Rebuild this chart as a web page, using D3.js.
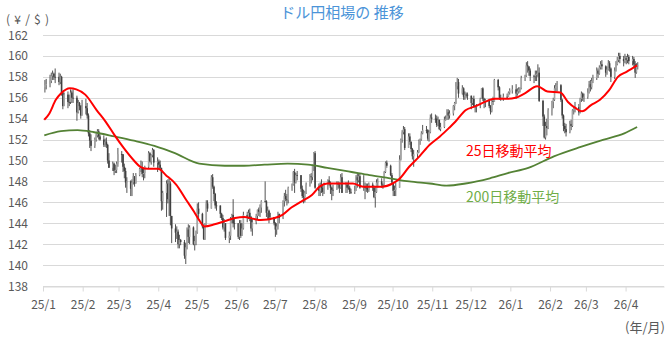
<!DOCTYPE html>
<html>
<head>
<meta charset="utf-8">
<script src="https://cdn.jsdelivr.net/npm/d3@7"></script>
<style>
  body { margin: 0; background: #fff; }
  text { font-family: "Noto Sans CJK JP", "Noto Sans", sans-serif; }
</style>
</head>
<body>
<div id="viz"></div>
<script>
//months covered, one row of daily values per month in the arrays below
const months = ["2025-01","2025-02","2025-03","2025-04","2025-05","2025-06","2025-07","2025-08",
  "2025-09","2025-10","2025-11","2025-12","2026-01","2026-02","2026-03","2026-04"];
//weekdays without a quote
const holidays = ["2025-01-01","2025-12-25","2026-01-01"];
//open of the very first day (after that each day opens at the previous close)
const firstOpen = 157.0;

//daily close (yen per dollar)
const close = [
  [157.2,157.3,157.6,158.1,158.3,158.0,158.0,157.5,158.0,156.5,155.2,156.3,155.6,155.6,156.5,156.0,156.0,154.6,155.5,155.2,154.3,155.2],
  [155.0,154.3,152.6,151.9,151.4,152.0,152.4,152.8,152.3,152.0,151.5,151.8,151.5,150.0,149.3,149.7,149.0,149.1,149.7,150.6],
  [150.6,149.4,149.0,147.9,148.0,147.3,147.9,148.5,147.8,148.6,149.2,149.3,148.7,148.8,149.4,150.7,149.9,150.5,151.0,149.8,149.9],
  [149.6,149.3,146.1,146.9,147.8,146.3,147.8,144.7,143.5,143.1,143.2,142.0,142.4,142.2,140.9,141.7,143.4,142.7,143.6,142.0,142.3,143.1],
  [145.4,144.9,143.7,142.5,143.8,145.9,145.4,148.4,147.5,146.8,145.7,145.7,144.9,144.5,143.6,144.0,142.6,142.8,144.3,144.8,144.0,144.0],
  [142.7,144.0,142.8,143.5,144.8,144.6,145.0,144.6,143.5,144.1,144.7,145.3,145.1,145.5,146.1,146.1,145.0,145.2,144.4,144.6,144.0],
  [143.4,143.7,144.9,144.5,146.1,146.6,146.3,146.2,147.4,147.7,148.9,147.9,148.6,148.6,147.3,146.6,146.5,146.9,147.7,148.5,148.4,149.5,150.7],
  [147.4,147.1,147.7,147.4,147.0,147.7,148.1,147.8,147.4,147.2,147.2,147.8,147.7,147.4,148.4,146.9,147.7,147.4,147.4,147.0,147.0],
  [147.1,148.4,148.1,148.5,147.4,147.5,147.4,147.4,147.2,147.7,147.4,146.5,147.0,147.9,148.0,147.7,147.6,148.9,149.8,149.5,148.6,147.9],
  [147.1,147.2,147.4,150.1,152.0,152.7,153.0,151.2,152.3,151.8,151.1,150.4,150.6,150.8,151.9,152.0,152.6,152.9,152.9,152.1,152.7,154.1,154.0],
  [154.0,153.4,153.9,153.0,153.2,153.9,154.0,154.6,154.3,154.5,155.2,155.5,157.1,157.5,156.4,156.9,156.1,156.3,156.3,156.2],
  [155.5,155.9,155.2,155.1,155.3,155.9,156.9,155.9,155.6,155.8,155.2,154.7,155.7,155.6,157.7,157.0,156.0,155.9,156.1,156.1,156.5,156.7],
  [156.8,156.4,156.6,156.8,156.9,157.9,158.1,159.1,159.0,158.6,158.1,158.1,158.2,158.3,158.4,155.7,154.2,152.2,153.3,153.1,154.8],
  [155.6,155.8,156.9,157.1,157.2,155.8,154.3,153.3,153.0,152.7,153.5,153.3,154.8,155.0,155.1,154.6,155.9,156.4,156.0,156.1],
  [156.5,157.3,157.0,157.6,157.9,158.6,158.3,158.9,159.2,159.0,158.4,158.7,159.3,158.8,158.0,158.6,159.2,159.6,160.0,159.7,159.5,159.8],
  [159.6,159.9,159.5,159.7,159.2,158.4,159.0,159.1]
];
//daily high
const high = [
  [157.7,157.8,158.2,158.4,158.6,158.4,158.8,158.4,158.3,158.1,156.6,156.5,156.6,156.3,156.8,156.7,156.8,156.2,155.8,155.6,155.3,155.8],
  [155.9,155.5,154.5,152.9,152.5,152.2,152.6,153.0,153.0,152.5,152.4,152.1,152.2,151.6,150.7,149.9,149.8,149.6,149.9,151.2],
  [150.9,150.6,149.7,149.3,148.4,148.1,148.2,148.8,148.5,148.8,149.3,150.0,149.9,149.2,149.5,150.9,150.8,150.6,151.2,151.1,150.3],
  [150.1,150.0,149.3,147.1,148.1,148.2,148.3,148.0,144.6,143.9,143.7,143.4,142.9,142.5,142.4,142.1,143.6,143.9,143.8,143.7,142.8,143.3],
  [145.9,146.0,145.0,143.9,144.0,146.2,146.2,148.6,148.7,147.6,146.9,146.1,145.7,145.0,144.8,144.4,144.0,143.2,144.6,144.9,146.3,144.4],
  [143.9,144.3,144.3,144.0,145.1,145.1,145.3,145.4,144.7,144.5,144.9,145.3,145.5,145.8,146.2,148.0,146.2,145.6,145.3,145.0,144.5],
  [144.1,144.0,145.1,144.9,146.2,146.9,147.2,146.8,147.5,147.8,149.0,149.2,148.8,149.0,148.5,147.6,147.2,147.1,147.9,148.7,148.8,149.6,150.8],
  [150.9,147.8,147.9,148.2,147.6,147.9,148.2,148.5,148.0,147.5,147.7,148.0,148.0,147.9,148.7,148.8,147.9,147.9,148.1,147.6,147.3],
  [147.6,148.6,148.8,148.8,148.8,148.6,147.9,147.8,147.8,147.9,147.9,147.6,147.5,148.2,148.3,148.3,147.8,149.0,149.9,150.0,149.6,148.8],
  [147.9,147.6,147.9,150.5,152.1,152.9,153.3,153.2,152.6,152.6,151.7,151.2,151.0,151.0,152.0,152.1,152.8,153.4,153.3,153.0,152.9,154.4,154.5],
  [154.4,154.3,154.2,153.9,153.6,154.2,154.3,154.9,154.9,154.8,155.3,155.6,157.5,157.9,157.8,157.2,157.0,156.6,156.5,156.5],
  [156.2,156.0,156.2,155.3,155.4,156.0,156.9,157.0,156.0,155.9,155.9,155.3,155.8,156.1,157.8,157.8,157.1,156.3,156.4,156.4,156.6,156.9],
  [157.2,157.3,156.9,157.0,157.0,158.1,158.2,159.4,159.5,159.0,158.8,158.2,158.6,158.6,159.2,158.9,155.8,154.4,153.7,154.0,155.0],
  [155.7,156.0,157.2,157.4,157.6,157.3,155.9,154.4,153.6,153.5,153.8,153.9,154.9,155.2,155.6,155.4,156.0,156.6,156.5,156.4],
  [156.9,157.6,157.7,157.9,158.2,158.9,158.8,159.1,159.5,159.6,159.1,159.0,159.6,159.5,158.9,158.9,159.5,159.9,160.3,160.3,160.0,160.2],
  [160.0,160.2,160.1,160.0,159.9,159.5,159.3,159.4]
];
//daily low
const low = [
  [156.5,156.8,157.0,157.4,157.7,157.7,157.4,157.2,157.3,156.2,154.9,155.2,155.0,155.2,155.4,155.5,155.5,153.8,154.5,154.8,154.0,154.3],
  [154.4,154.0,152.3,151.2,150.9,151.2,151.8,152.2,152.0,151.9,151.3,151.3,151.2,149.7,149.3,149.0,148.6,148.8,148.8,149.4],
  [149.8,148.9,148.3,147.4,146.9,146.6,146.6,147.7,147.5,147.8,148.5,148.9,148.4,148.1,148.3,149.2,149.8,149.6,150.3,149.4,148.9],
  [149.1,149.1,145.2,145.3,144.6,145.9,144.7,143.8,142.1,142.2,142.5,141.6,141.6,141.9,140.6,140.1,141.5,142.1,142.0,141.9,141.4,141.9],
  [143.0,144.5,143.5,142.4,142.4,143.8,145.1,145.5,147.3,146.1,145.4,145.2,144.5,144.3,143.4,143.2,142.4,142.1,142.4,144.0,143.6,143.4],
  [142.5,142.4,142.6,142.8,143.4,144.1,144.4,144.2,143.2,142.8,143.9,144.3,144.7,144.6,145.0,146.0,144.6,144.4,144.0,144.3,143.8],
  [142.7,142.9,143.4,144.0,144.4,145.6,146.1,145.7,145.9,147.1,147.6,146.9,147.8,148.1,147.0,146.4,145.9,146.0,146.8,147.5,147.8,148.1,149.0],
  [147.3,146.6,146.6,146.9,146.6,146.8,147.2,147.6,146.8,146.2,146.6,147.3,147.3,146.9,147.3,146.9,146.9,146.9,147.2,146.8,146.8],
  [146.8,147.1,147.4,147.9,147.3,147.1,146.3,147.0,146.9,147.0,147.1,146.4,145.5,146.9,147.4,147.4,147.3,147.5,148.8,149.3,148.5,147.8],
  [146.6,146.6,146.6,148.8,150.0,151.7,152.5,151.0,151.6,151.5,150.8,150.1,149.4,150.2,150.7,151.5,151.9,152.5,152.6,151.9,151.8,152.6,153.6],
  [153.6,153.2,153.3,152.9,152.8,153.1,153.8,153.9,153.9,154.0,154.3,154.8,155.4,156.8,156.0,156.3,155.8,155.8,156.0,155.8],
  [154.9,155.3,155.1,154.6,154.6,155.0,155.9,155.7,155.0,155.1,155.0,154.4,154.6,155.3,155.6,156.7,155.8,155.7,155.7,155.9,156.1,156.3],
  [156.4,155.9,156.2,156.4,156.5,156.8,157.6,158.0,158.4,158.1,157.6,157.4,157.6,157.6,158.0,155.6,153.3,152.1,152.0,152.4,153.0],
  [154.3,155.0,155.7,156.6,156.6,155.6,154.0,152.8,152.6,152.3,152.6,152.9,153.2,154.4,154.6,154.3,154.5,155.6,155.7,155.6],
  [155.9,156.4,156.6,156.8,157.4,157.7,157.9,158.2,158.7,158.7,158.0,158.2,158.6,158.5,157.5,157.8,158.5,159.1,159.4,159.3,159.0,159.3],
  [159.2,159.3,159.2,159.1,158.9,157.9,158.3,158.7]
];

//25-day moving average
const ma25Dates = ["2025-01-02","2025-01-06","2025-01-11","2025-01-15","2025-01-22","2025-01-27","2025-02-03","2025-02-12",
  "2025-02-19","2025-02-26","2025-03-05","2025-03-13","2025-03-18","2025-03-24","2025-04-01","2025-04-07","2025-04-15",
  "2025-04-23","2025-04-29","2025-05-03","2025-05-07","2025-05-15","2025-05-23","2025-05-31","2025-06-07","2025-06-15",
  "2025-06-20","2025-07-01","2025-07-07","2025-07-14","2025-07-22","2025-07-30","2025-08-05","2025-08-11","2025-08-22",
  "2025-08-31","2025-09-08","2025-09-23","2025-10-01","2025-10-06","2025-10-14","2025-10-22","2025-10-30","2025-11-07",
  "2025-11-14","2025-11-19","2025-11-27","2025-12-05","2025-12-12","2025-12-20","2025-12-29","2026-01-05","2026-01-12",
  "2026-01-22","2026-01-30","2026-02-09","2026-02-15","2026-02-21","2026-02-26","2026-03-05","2026-03-12","2026-03-19",
  "2026-03-26","2026-04-02","2026-04-10"];
const ma25Values = [153.9,154.5,155.8,156.4,156.9,156.8,156.3,154.8,
  153.7,152.4,151.2,150.0,149.4,149.2,149.2,148.6,147.7,
  146.2,145.1,144.3,143.7,143.9,144.2,144.5,144.6,144.4,
  144.3,144.5,144.8,145.5,146.1,146.7,147.5,147.8,147.8,
  147.8,147.5,147.5,147.8,148.2,149.4,150.4,151.5,152.3,
  153.1,153.7,154.8,155.2,155.6,155.9,155.9,156.0,156.4,
  157.1,156.6,156.5,155.6,155.0,154.7,155.3,155.8,156.7,
  158.0,158.5,159.1];

//200-day moving average
const ma200Dates = ["2025-01-02","2025-01-15","2025-01-28","2025-02-10","2025-02-26","2025-03-13","2025-03-29","2025-04-14",
  "2025-05-03","2025-05-23","2025-06-07","2025-06-23","2025-07-11","2025-07-27","2025-08-11","2025-08-30","2025-09-13",
  "2025-09-29","2025-10-14","2025-10-30","2025-11-12","2025-11-27","2025-12-16","2025-12-30","2026-01-15","2026-02-04",
  "2026-02-25","2026-03-15","2026-03-31","2026-04-10"];
const ma200Values = [152.4,152.8,152.9,152.7,152.3,151.9,151.4,150.7,
  149.7,149.5,149.5,149.6,149.7,149.6,149.3,148.9,148.6,
  148.3,148.0,147.8,147.6,147.8,148.3,148.8,149.3,150.4,
  151.3,152.0,152.6,153.2];

const yTicks = [138,140,142,144,146,148,150,152,154,156,158,160,162];

const width = 670, height = 337;
const svg = d3.select("#viz").append("svg")
  .attr("width", width)
  .attr("height", height);

const parseDay = d3.timeParse("%Y-%m-%d");
const parseMonth = d3.timeParse("%Y-%m");
const fmtDay = d3.timeFormat("%Y-%m-%d");

//build the daily candles month by month (weekdays only)
const days = [];
let prevClose = firstOpen;
months.forEach(function(m, i) {
  const start = parseMonth(m);
  const weekdays = d3.timeDay.range(start, d3.timeMonth.offset(start, 1))
    .filter(d => d.getDay() !== 0 && d.getDay() !== 6 && !holidays.includes(fmtDay(d)));
  close[i].forEach(function(c, j) {
    days.push({
      date: weekdays[j],
      open: prevClose,
      close: c,
      high: Math.max(high[i][j], prevClose, c),
      low: Math.min(low[i][j], prevClose, c)
    });
    prevClose = c;
  });
});

//scales: date axis runs from 25/1 to the end of 26/4
const x = d3.scaleTime()
  .domain([new Date(2025, 0, 1), new Date(2026, 4, 1)])
  .range([43, 664]);
const y = d3.scaleLinear()
  .domain([138, 162])
  .range([286, 35]);

//horizontal gridlines
svg.append("g").selectAll("line")
  .data(yTicks)
  .enter().append("line")
  .attr("x1", 43).attr("x2", 664)
  .attr("y1", d => Math.round(y(d)) + 0.5)
  .attr("y2", d => Math.round(y(d)) + 0.5)
  .attr("stroke", "#d9d9d9")
  .attr("stroke-width", 1);

//y labels
svg.append("g").selectAll("text")
  .data(yTicks)
  .enter().append("text")
  .attr("x", 28)
  .attr("y", d => y(d) + 4.5)
  .attr("text-anchor", "end")
  .attr("font-size", 12)
  .attr("fill", "#595959")
  .text(d => d);

//x axis with one tick per month
const monthTicks = d3.timeMonth.range(new Date(2025, 0, 1), new Date(2026, 3, 2));
const xAxis = svg.append("g")
  .attr("transform", "translate(0," + (Math.round(y(138)) + 0.5) + ")")
  .call(d3.axisBottom(x)
    .tickValues(monthTicks)
    .tickFormat(d3.timeFormat("%y/%-m"))
    .tickSize(5)
    .tickSizeOuter(0)
    .tickPadding(9));
xAxis.select(".domain").attr("stroke", "#d9d9d9");
xAxis.selectAll(".tick line").attr("stroke", "#d9d9d9");
xAxis.selectAll(".tick text")
  .attr("font-size", 12)
  .attr("fill", "#595959")
  .style("font-family", '"Noto Sans CJK JP", sans-serif');

//candles: wick first, then the body
const cx = d => x(d3.timeHour.offset(d.date, 12));
const candles = svg.append("g");
candles.selectAll("line")
  .data(days)
  .enter().append("line")
  .attr("x1", cx).attr("x2", cx)
  .attr("y1", d => y(d.high))
  .attr("y2", d => y(d.low))
  .attr("stroke", "#404040")
  .attr("stroke-width", 0.9);
candles.selectAll("rect")
  .data(days)
  .enter().append("rect")
  .attr("x", d => cx(d) - 0.8)
  .attr("width", 1.6)
  .attr("y", d => y(Math.max(d.open, d.close)))
  .attr("height", d => Math.max(0.8, Math.abs(y(d.open) - y(d.close))))
  .attr("fill", d => d.close > d.open ? "#a6a6a6" : "#404040");

//moving average lines
const line = d3.line()
  .x(d => x(parseDay(d[0])))
  .y(d => y(d[1]))
  .curve(d3.curveMonotoneX);

svg.append("path")
  .datum(d3.zip(ma200Dates, ma200Values))
  .attr("d", line)
  .attr("fill", "none")
  .attr("stroke", "#548235")
  .attr("stroke-width", 1.8);

svg.append("path")
  .datum(d3.zip(ma25Dates, ma25Values))
  .attr("d", line)
  .attr("fill", "none")
  .attr("stroke", "#ff0000")
  .attr("stroke-width", 2);

//series labels
svg.append("text")
  .attr("x", 466).attr("y", 156)
  .attr("font-size", 14)
  .attr("fill", "#ff0000")
  .text("25日移動平均");
svg.append("text")
  .attr("x", 466).attr("y", 202)
  .attr("font-size", 14)
  .attr("fill", "#70ad47")
  .text("200日移動平均");

//title and unit labels
svg.append("text")
  .attr("x", 342).attr("y", 18)
  .attr("text-anchor", "middle")
  .attr("font-size", 15)
  .attr("fill", "#4b94d8")
  .text("ドル円相場の 推移");
svg.append("text")
  .attr("x", 6).attr("y", 24)
  .attr("font-size", 12)
  .attr("fill", "#595959")
  .attr("textLength", 43)
  .attr("lengthAdjust", "spacing")
  .text("(¥/$)");
svg.append("text")
  .attr("x", 665).attr("y", 332)
  .attr("text-anchor", "end")
  .attr("font-size", 13)
  .attr("fill", "#595959")
  .text("(年/月)");
</script>
</body>
</html>
